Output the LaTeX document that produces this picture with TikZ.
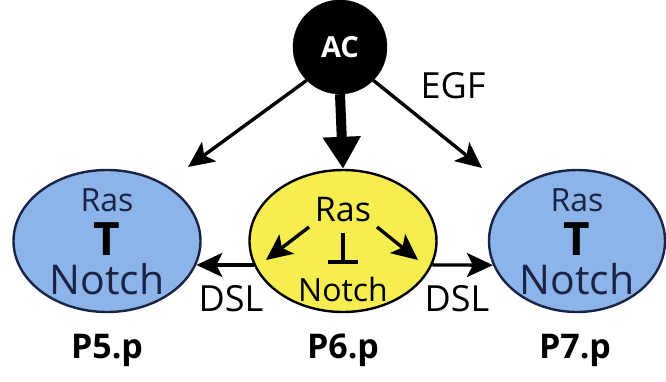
\documentclass[tikz,border=0pt]{standalone}
\usepackage{fontspec}
\setmainfont{Open Sans}
\usetikzlibrary{arrows.meta,shapes.geometric}
\definecolor{cellblue}{RGB}{141,180,232}
\definecolor{cellyellow}{RGB}{246,238,80}
\definecolor{navy}{RGB}{25,35,70}
\begin{document}
\begin{tikzpicture}[x=1pt,y=-1pt,
  cell/.style={ellipse,draw,line width=2.4pt,minimum width=187pt,minimum height=142pt,inner sep=0pt},
  act/.style={line width=3.4pt,-{Stealth[length=26pt,width=24pt,inset=6pt]}},
  lbl/.style={font=\fontsize{36}{36}\selectfont},
  plabel/.style={font=\bfseries\fontsize{34}{34}\selectfont}]
\useasboundingbox (0,0) rectangle (666,381);
% cells
\node[cell,fill=cellblue,draw=navy] (p5) at (107,241) {};
\node[cell,fill=cellyellow,draw=black] (p6) at (343,241) {};
\node[cell,fill=cellblue,draw=navy,minimum width=176pt] (p7) at (577,241) {};
% anchor cell AC
\node[circle,fill=black,draw=black,minimum size=94pt,inner sep=0pt,
      text=white,font=\bfseries\fontsize{29}{29}\selectfont] (ac) at (340,47) {AC};
% EGF signal from AC
\coordinate (egfl) at (188,167);
\coordinate (egfr) at (482,168);
\draw[act] (ac.225) -- (egfl);
\draw[act] (ac.315) -- (egfr);
\draw[line width=10pt,-{Triangle[length=32pt,width=36pt]}] (ac.south) -- (p6.north);
\node[lbl] (egf) at (453,86) {EGF};
% lateral DSL signal
\draw[act] (p6.195) -- (p5.-15);
\draw[act] (p6.-15) -- (p7.196);
\node[lbl] (dsl1) at (231,299) {DSL};
\node[lbl] (dsl2) at (457,299) {DSL};
% contents of P5.p and P7.p
\foreach \c in {p5,p7}{
  \node[text=navy,font=\fontsize{32}{32}\selectfont] (\c ras) at ([yshift=41pt]\c) {Ras};
  \node[text=black,font=\bfseries\fontsize{46}{46}\selectfont] (\c t) at ([yshift=2pt]\c) {T};
  \node[text=navy,font=\fontsize{41}{41}\selectfont] (\c notch) at ([yshift=-38pt]\c) {Notch};
}
% contents of P6.p
\node[font=\fontsize{34}{34}\selectfont] (p6ras) at (343,210) {Ras};
\node[font=\fontsize{32}{32}\selectfont] (p6notch) at (343,289) {Notch};
\coordinate (inhtop) at (343,233);
\coordinate (inhbot) at (343,262);
\coordinate (barl) at (328,262);
\coordinate (barr) at (358,262);
\draw[line width=4pt] (inhtop) -- (inhbot);
\draw[line width=4pt] (barl) -- (barr);
\coordinate (rasl) at (309,227);
\coordinate (rasr) at (377,227);
\coordinate (tipl) at (266,260);
\coordinate (tipr) at (418,260);
\draw[act] (rasl) -- (tipl);
\draw[act] (rasr) -- (tipr);
% cell names
\node[plabel] (n5) at (107,350) {P5.p};
\node[plabel] (n6) at (343,350) {P6.p};
\node[plabel] (n7) at (575,350) {P7.p};
\end{tikzpicture}
\end{document}
